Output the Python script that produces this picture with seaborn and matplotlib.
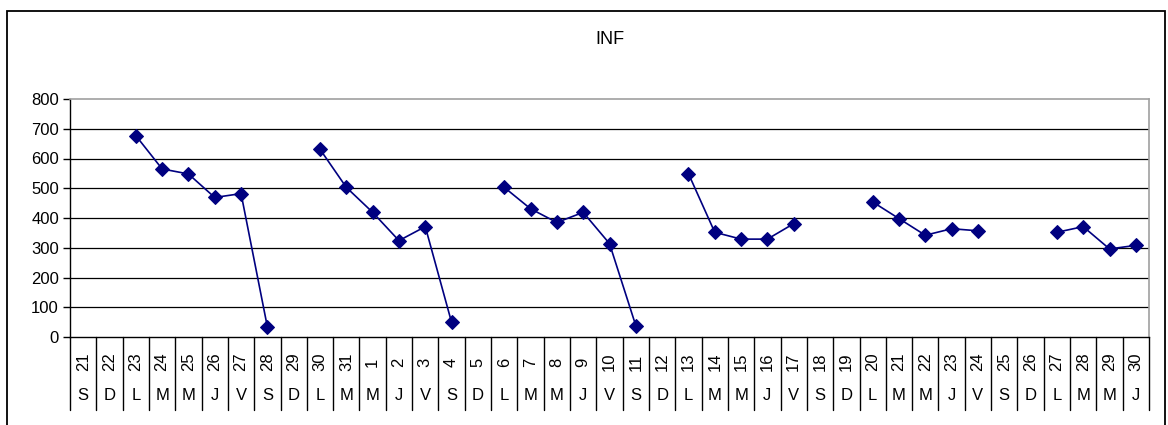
import numpy as np
import pandas as pd
import matplotlib
matplotlib.use("Agg")
import matplotlib.pyplot as plt
import seaborn as sns

days = ["21", "22", "23", "24", "25", "26", "27", "28", "29", "30", "31",
        "1", "2", "3", "4", "5", "6", "7", "8", "9", "10", "11", "12", "13",
        "14", "15", "16", "17", "18", "19", "20", "21", "22", "23", "24",
        "25", "26", "27", "28", "29", "30"]
weekdays = ["S", "D", "L", "M", "M", "J", "V", "S", "D", "L", "M",
            "M", "J", "V", "S", "D", "L", "M", "M", "J", "V", "S", "D", "L",
            "M", "M", "J", "V", "S", "D", "L", "M", "M", "J", "V",
            "S", "D", "L", "M", "M", "J"]
inf = [np.nan, np.nan, 677, 565, 548, 469, 482, 34, np.nan, 631, 503,
       419, 324, 371, 49, np.nan, 503, 431, 385, 419, 314, 38, np.nan, 549,
       352, 329, 329, 381, np.nan, np.nan, 454, 398, 342, 364, 357,
       np.nan, np.nan, 352, 371, 296, 308]

sns.set_theme(style="white")
plt.rcParams['font.family'] = ['Liberation Sans', 'DejaVu Sans']
plt.rcParams['text.color'] = 'black'
plt.rcParams['ytick.color'] = 'black'

df = pd.DataFrame({'pos': np.arange(len(days)), 'inf': inf})
# split into runs so gaps are not bridged
df['seg'] = df['inf'].isna().cumsum()
df = df.dropna()

fig = plt.figure(figsize=(11.68, 4.25), dpi=100)
ax = fig.add_axes([70/1168, 88/425, 1079/1168, 238/425])

sns.lineplot(data=df, x='pos', y='inf', units='seg', estimator=None,
             color='#000080', marker='D', markersize=7.5, markeredgecolor='#000080',
             linewidth=1.2, ax=ax, legend=False)

n = len(days)
ax.set_xlim(-0.5, n - 0.5)
ax.set_ylim(0, 800)
ax.set_yticks(range(0, 900, 100))
ax.tick_params(axis='y', labelsize=12, labelcolor='black', length=5, width=1,
               color='black', pad=3, left=True)
ax.set_xticks([])
ax.set_xlabel('')
ax.set_ylabel('')
for v in range(100, 800, 100):
    ax.axhline(v, color='black', lw=0.9, zorder=0)
for s in ['top', 'right']:
    ax.spines[s].set_color('#a0a0a0')
    ax.spines[s].set_linewidth(1.2)
for s in ['left', 'bottom']:
    ax.spines[s].set_color('black')
    ax.spines[s].set_linewidth(1)

# two-row category axis
tr = ax.get_xaxis_transform()
for i in range(n + 1):
    ax.plot([i - 0.5, i - 0.5], [0, -73/238], transform=tr, color='black',
            lw=1, clip_on=False)
for i in range(n):
    ax.text(i, -25/238, days[i], transform=tr, rotation=90, ha='center',
            va='center', fontsize=12, color='black')
    ax.text(i, -58/238, weekdays[i], transform=tr, ha='center', va='center',
            fontsize=12, color='black')

ax.set_title('INF', fontsize=13, color='black', pad=0, y=(337 - 37)/238 - 0.03)

# outer chart frame
fig.patches.append(plt.Rectangle((7/1168, -0.05), 1158/1168, (425 - 11)/425 + 0.05,
                                 transform=fig.transFigure, fill=False,
                                 edgecolor='black', lw=1.3))

fig.savefig('out.png', dpi=100)
